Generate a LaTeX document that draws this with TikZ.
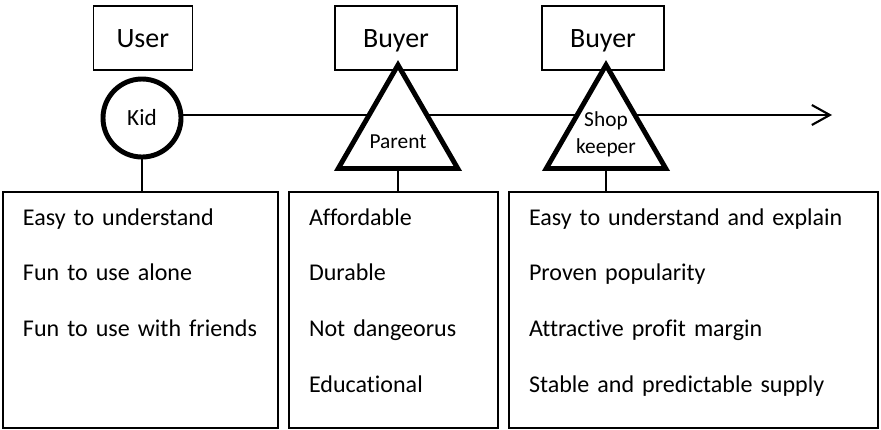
\documentclass[tikz,border=0pt]{standalone}
\usepackage{fontspec}
\setmainfont{Carlito}[Ligatures=CommonOff, WordSpace=0.85]
\usetikzlibrary{shapes.geometric,arrows.meta}

\tikzstyle{rolebox}=[minimum width=3.05cm, minimum height=1.6cm, shape=rectangle, draw, line width=1pt, text height=0.45cm, text depth=0cm, font=\fontsize{19.9}{24}\selectfont]
\tikzstyle{usercircle}=[shape=circle, minimum size=1.95cm, inner sep=0pt, draw, line width=3.5pt, fill=white, font=\fontsize{16.5}{18}\selectfont]
\tikzstyle{buyertri}=[regular polygon, regular polygon sides=3, minimum size=3.45cm, inner sep=0pt, draw, line width=3.5pt, fill=white]
\tikzstyle{trilabel}=[font=\fontsize{15.2}{19.2}\selectfont, align=center, inner sep=0pt]
\tikzstyle{needbox}=[shape=rectangle, draw, line width=1pt, align=left, inner xsep=0.5cm, inner ysep=0pt, text height=0.825cm, text depth=5.075cm, font=\fontsize{17.1}{39.8}\selectfont]
\tikzstyle{timeline}=[line width=1.5pt, -{Straight Barb[length=0.45cm,width=0.5cm]}]
\tikzstyle{stem}=[line width=1pt]

\begin{document}
\begin{tikzpicture}
        \useasboundingbox (0,0) rectangle (22.025,10.725);
        \coordinate (timeend) at (20.8,7.85);
        \node[rolebox, minimum width=2.475cm] at (3.57,9.775) (user) {User};
        \node[rolebox] at (9.9,9.775) (buyerparent) {Buyer};
        \node[rolebox] at (15.075,9.775) (buyershop) {Buyer};
        \node[usercircle] at (3.55,7.775) (kid) {Kid};
        \draw[timeline] (kid.east |- timeend) -- (timeend);
        \node[buyertri, label={[trilabel, yshift=-0.2cm]center:Parent}] at (9.95,7.375) (parent) {};
        \node[buyertri, label={[trilabel]center:Shop\\keeper}] at (15.15,7.375) (shopkeeper) {};
        \node[needbox, text width=5.875cm] at (3.5125,2.975) (kidneeds) {Easy to understand\\Fun to use alone\\Fun to use with friends};
        \node[needbox, text width=4.225cm] at (9.8375,2.975) (parentneeds) {Affordable\\Durable\\Not dangeorus\\Educational};
        \node[needbox, text width=8.225cm] at (17.3375,2.975) (shopneeds) {Easy to understand and explain\\Proven popularity\\Attractive profit margin\\Stable and predictable supply};
        \draw[stem] (kid.south) -- (kid.south |- kidneeds.north);
        \draw[stem] (parent.south) -- (parent.south |- parentneeds.north);
        \draw[stem] (shopkeeper.south) -- (shopkeeper.south |- shopneeds.north);
    \end{tikzpicture}
\end{document}
